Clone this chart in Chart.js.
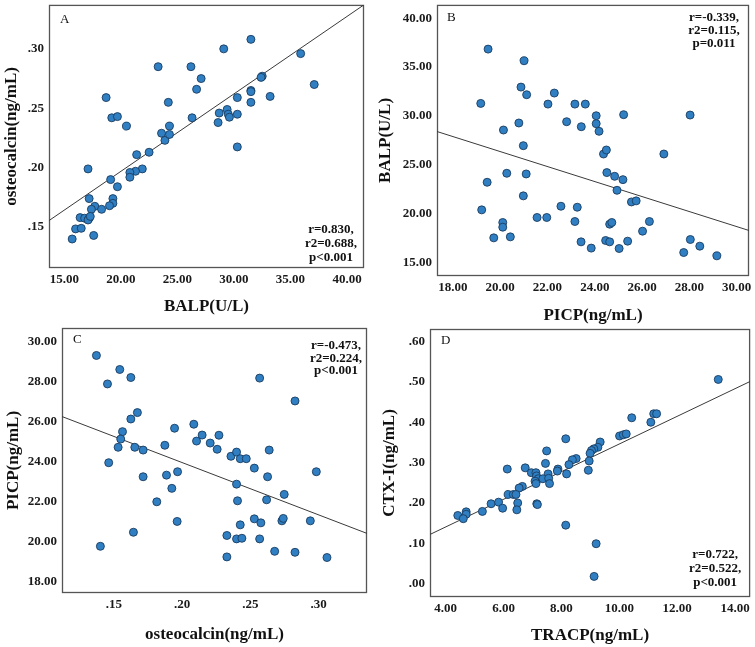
<!DOCTYPE html>
<html>
<head>
<meta charset="utf-8">
<script src="https://cdn.jsdelivr.net/npm/chart.js@4"></script>
<style>
  html, body { margin: 0; padding: 0; background: #ffffff; }
  #wrap { position: relative; width: 755px; height: 647px; overflow: hidden; background: #fff; }
  #wrap canvas { position: absolute; left: 0; top: 0; }
</style>
</head>
<body>
<div id="wrap">
  <canvas id="cA" width="755" height="647"></canvas>
  <canvas id="cB" width="755" height="647"></canvas>
  <canvas id="cC" width="755" height="647"></canvas>
  <canvas id="cD" width="755" height="647"></canvas>
</div>
<script>
// ---------------- DATA ----------------
// Panel A: BALP (x) vs osteocalcin (y)
const aBALP = [23.3,26.2,29.1,31.5,35.9,37.1,27.1,26.7,32.5,32.4,31.5,31.5,30.3,33.2,31.5,24.2,18.7,19.2,19.7,20.5,26.3,28.7,29.4,29.5,29.6,30.3,28.6,24.3,23.6,23.9,24.3,30.3,21.4,22.5,17.1,21.9,21.3,20.8,20.8,19.1,19.7,17.2,19.3,19.3,19.0,17.7,17.4,18.3,16.4,16.8,17.2,17.1,17.3,16.0,16.5,15.7,17.6];
const aOsteo = [.285,.285,.300,.308,.296,.270,.275,.266,.277,.276,.265,.264,.259,.260,.255,.255,.259,.242,.243,.235,.242,.246,.249,.245,.2425,.245,.238,.235,.229,.223,.228,.2175,.211,.213,.199,.199,.197,.196,.192,.190,.184,.174,.174,.170,.168,.1675,.165,.165,.158,.1575,.1575,.156,.159,.1485,.149,.140,.143];
const aFit = [0.0665, 0.00652];           // intercept, slope
const aXTicks = [15,20,25,30,35,40];
const aYTicks = [0.15,0.20,0.25,0.30];
const aStats = ["r=0.830,", "r2=0.688,", "p<0.001"];

// Panel B: PICP (x) vs BALP (y)
const bPICP = [19.49,21.01,19.18,20.88,21.12,22.29,22.02,23.16,23.6,20.14,20.79,22.81,23.43,24.06,24.06,24.18,25.22,28.03,20.98,24.37,24.49,26.92,20.28,21.1,19.45,24.51,24.84,25.19,24.94,20.98,25.55,25.75,19.22,22.57,23.26,21.56,21.97,20.11,20.11,23.16,24.63,24.72,26.31,26.02,19.73,20.43,23.42,24.46,24.63,25.39,23.85,25.03,28.04,28.44,27.76,29.16];
const bBALP = [36.84,35.65,31.29,32.96,32.18,32.35,31.22,31.22,31.22,28.57,29.29,29.42,28.91,30.03,29.22,28.44,30.14,30.1,26.97,26.12,26.53,26.12,24.15,24.08,23.23,24.22,23.84,23.5,22.41,21.84,21.22,21.33,20.41,20.78,20.68,19.63,19.63,19.12,18.64,19.22,18.95,19.12,19.22,18.23,17.55,17.65,17.14,17.28,17.14,17.21,16.5,16.46,17.38,16.7,16.05,15.71];
const bFit = [41.71, -0.767];
const bXTicks = [18,20,22,24,26,28,30];
const bYTicks = [15,20,25,30,35,40];
const bStats = ["r=-0.339,", "r2=0.115,", "p=0.011"];

// Panel C: osteocalcin (x) vs PICP (y)
const cOsteo = [.1373,.1544,.1454,.1625,.1673,.1625,.1564,.1551,.1532,.1654,.1715,.1463,.1715,.1402,.1644,.1815,.1874,.1886,.1945,.1925,.1967,.1964,.2086,.2106,.2147,.2206,.227,.2257,.2358,.2399,.2426,.247,.2399,.2406,.2529,.2626,.2638,.2568,.2827,.2619,.2748,.2983,.2328,.2399,.2438,.2426,.2529,.2577,.2568,.2731,.2741,.2939,.2328,.2678,.2827,.3061];
const cPICP = [29.3,28.6,27.88,28.2,26.45,26.13,25.5,25.13,24.72,24.72,24.58,23.95,23.25,19.78,20.48,22.0,24.82,23.33,25.67,22.67,23.5,21.02,25.87,25.03,25.33,24.93,25.32,24.62,24.27,24.48,24.15,24.15,22.88,22.05,23.68,23.25,24.58,28.17,27.03,22.1,22.37,23.5,20.32,20.15,20.18,20.85,21.15,20.95,20.15,21.05,21.17,21.05,19.25,19.53,19.48,19.22];
const cFit = [29.18, -26.11];
const cXTicks = [0.15,0.20,0.25,0.30];
const cYTicks = [18,20,22,24,26,28,30];
const cStats = ["r=-0.473,", "r2=0.224,", "p<0.001"];

// Panel D: TRACP (x) vs CTX-I (y)
const dTRACP = [13.42,10.43,11.19,11.29,11.09,10.01,10.14,10.24,9.34,9.26,9.12,9.04,8.99,8.15,7.49,7.45,6.75,6.13,8.51,8.38,8.26,8.96,8.93,8.18,7.88,7.86,7.54,6.96,7.12,7.14,7.2,7.36,7.56,7.09,7.12,7.59,6.65,6.54,6.16,6.34,6.43,5.57,5.83,6.49,7.15,7.17,5.97,6.46,5.27,4.42,4.71,4.71,4.61,8.15,9.2,9.13];
const dCTX = [.506,.411,.421,.421,.400,.366,.369,.371,.351,.338,.334,.330,.323,.359,.329,.298,.287,.284,.310,.307,.295,.304,.281,.272,.284,.279,.272,.275,.275,.267,.26,.26,.261,.254,.248,.248,.241,.237,.221,.221,.221,.198,.202,.2,.198,.196,.187,.183,.179,.169,.178,.172,.161,.145,.099,.018];
const dFit = [0.0034, 0.03427];
const dXTicks = [4,6,8,10,12,14];
const dYTicks = [0,0.1,0.2,0.3,0.4,0.5,0.6];
const dStats = ["r=0.722,", "r2=0.522,", "p<0.001"];

// ---------------- RENDERING ----------------
const SERIF = '"Liberation Serif", "Times New Roman", Times, serif';
const fmt2 = v => Number(v).toFixed(2);
const fmtDot = v => Number(v).toFixed(2).replace(/^0/, '');

const framePlugin = {
  id: 'panelFrame',
  beforeDatasetsDraw(chart, args, o) {
    const ctx = chart.ctx, a = chart.chartArea;
    ctx.save();
    ctx.strokeStyle = '#555555';
    ctx.lineWidth = 1.3;
    ctx.strokeRect(a.left + 0.5, a.top + 0.5, a.right - a.left - 1, a.bottom - a.top - 1);
    ctx.restore();
  },
  afterDraw(chart, args, o) {
    const ctx = chart.ctx, a = chart.chartArea;
    ctx.save();
    ctx.fillStyle = '#111111';
    ctx.textBaseline = 'middle';
    ctx.font = '13px ' + SERIF;
    ctx.textAlign = 'left';
    ctx.fillText(o.letter, a.left + o.lx, a.top + o.ly);
    ctx.font = 'bold 13px ' + SERIF;
    ctx.textAlign = 'center';
    o.stats.forEach((s, i) => {
      const y = o.fromBottom ? a.bottom - o.sy + i * o.sp : a.top + o.sy + i * o.sp;
      ctx.fillText(s, a.right - o.sx, y);
    });
    ctx.restore();
  }
};

function makePanel(id, xs, ys, fit, xr, yr, xTicks, yTicks, xFmt, yFmt, xTitle, yTitle, geom, ann) {
  const pts = xs.map((x, i) => ({ x: x, y: ys[i] }));
  const line = [xr[0], xr[1]].map(x => ({ x: x, y: fit[0] + fit[1] * x }));
  const tickFont = { family: SERIF, size: 13, weight: 'bold' };
  const titleFont = { family: SERIF, size: 17, weight: 'bold' };
  new Chart(document.getElementById(id), {
    type: 'scatter',
    data: {
      datasets: [
        { data: pts, backgroundColor: '#2f7fc2', borderColor: '#1b3c60', borderWidth: 0.9,
          pointRadius: 4, pointHoverRadius: 4 },
        { type: 'line', data: line, showLine: true, borderColor: '#3a3a3a', borderWidth: 1,
          pointRadius: 0, fill: false, tension: 0 }
      ]
    },
    options: {
      responsive: false, animation: false, devicePixelRatio: 1,
      layout: { padding: geom.pad },
      plugins: { legend: { display: false }, tooltip: { enabled: false }, panelFrame: ann },
      scales: {
        x: {
          type: 'linear', min: xr[0], max: xr[1],
          afterBuildTicks: s => { s.ticks = xTicks.map(v => ({ value: v })); },
          afterFit: s => { s.height = geom.xh; s.paddingLeft = 0; s.paddingRight = 0; },
          grid: { display: false, drawTicks: false }, border: { display: false },
          ticks: { callback: xFmt, font: tickFont, color: '#1a1a1a', padding: geom.xtp, maxRotation: 0, autoSkip: false },
          title: { display: true, text: xTitle, font: titleFont, color: '#111', padding: { top: 0, bottom: 1 } }
        },
        y: {
          type: 'linear', min: yr[0], max: yr[1],
          afterBuildTicks: s => { s.ticks = yTicks.map(v => ({ value: v })); },
          afterFit: s => { s.width = geom.yw; s.paddingTop = 0; s.paddingBottom = 0; },
          grid: { display: false, drawTicks: false }, border: { display: false },
          ticks: { callback: yFmt, font: tickFont, color: '#1a1a1a', padding: 5, autoSkip: false },
          title: { display: true, text: yTitle, font: titleFont, color: '#111', padding: { top: 1, bottom: 0 } }
        }
      }
    },
    plugins: [framePlugin]
  });
}

makePanel('cA', aBALP, aOsteo, aFit, [13.65, 41.5], [0.1156, 0.337], aXTicks, aYTicks, fmt2, fmtDot,
  'BALP(U/L)', 'osteocalcin(ng/mL)',
  { pad: { left: 0, right: 391, top: 2, bottom: 329 }, yw: 49, xh: 50, xtp: 4 },
  { letter: 'A', lx: 11, ly: 15, stats: aStats, sx: 33, sy: 38, sp: 14, fromBottom: true });

makePanel('cB', bPICP, bBALP, bFit, [17.33, 30.52], [13.65, 41.36], bXTicks, bYTicks, fmt2, fmt2,
  'PICP(ng/mL)', 'BALP(U/L)',
  { pad: { left: 374, right: 6, top: 4, bottom: 320 }, yw: 63, xh: 51, xtp: 4 },
  { letter: 'B', lx: 10, ly: 13, stats: bStats, sx: 35, sy: 13, sp: 13, fromBottom: false });

makePanel('cC', cOsteo, cPICP, cFit, [0.1121, 0.3354], [17.45, 30.67], cXTicks, cYTicks, fmtDot, fmt2,
  'osteocalcin(ng/mL)', 'PICP(ng/mL)',
  { pad: { left: 2, right: 388, top: 328, bottom: 1 }, yw: 60, xh: 53, xtp: 4 },
  { letter: 'C', lx: 11, ly: 12, stats: cStats, sx: 31, sy: 18, sp: 12.5, fromBottom: false });

makePanel('cD', dTRACP, dCTX, dFit, [3.46, 14.52], [-0.033, 0.631], dXTicks, dYTicks, fmt2, fmtDot,
  'TRACP(ng/mL)', 'CTX-I(ng/mL)',
  { pad: { left: 378, right: 3, top: 329, bottom: 0 }, yw: 52, xh: 50, xtp: 4 },
  { letter: 'D', lx: 11, ly: 12, stats: dStats, sx: 35, sy: 42, sp: 14, fromBottom: true });
</script>
</body>
</html>
